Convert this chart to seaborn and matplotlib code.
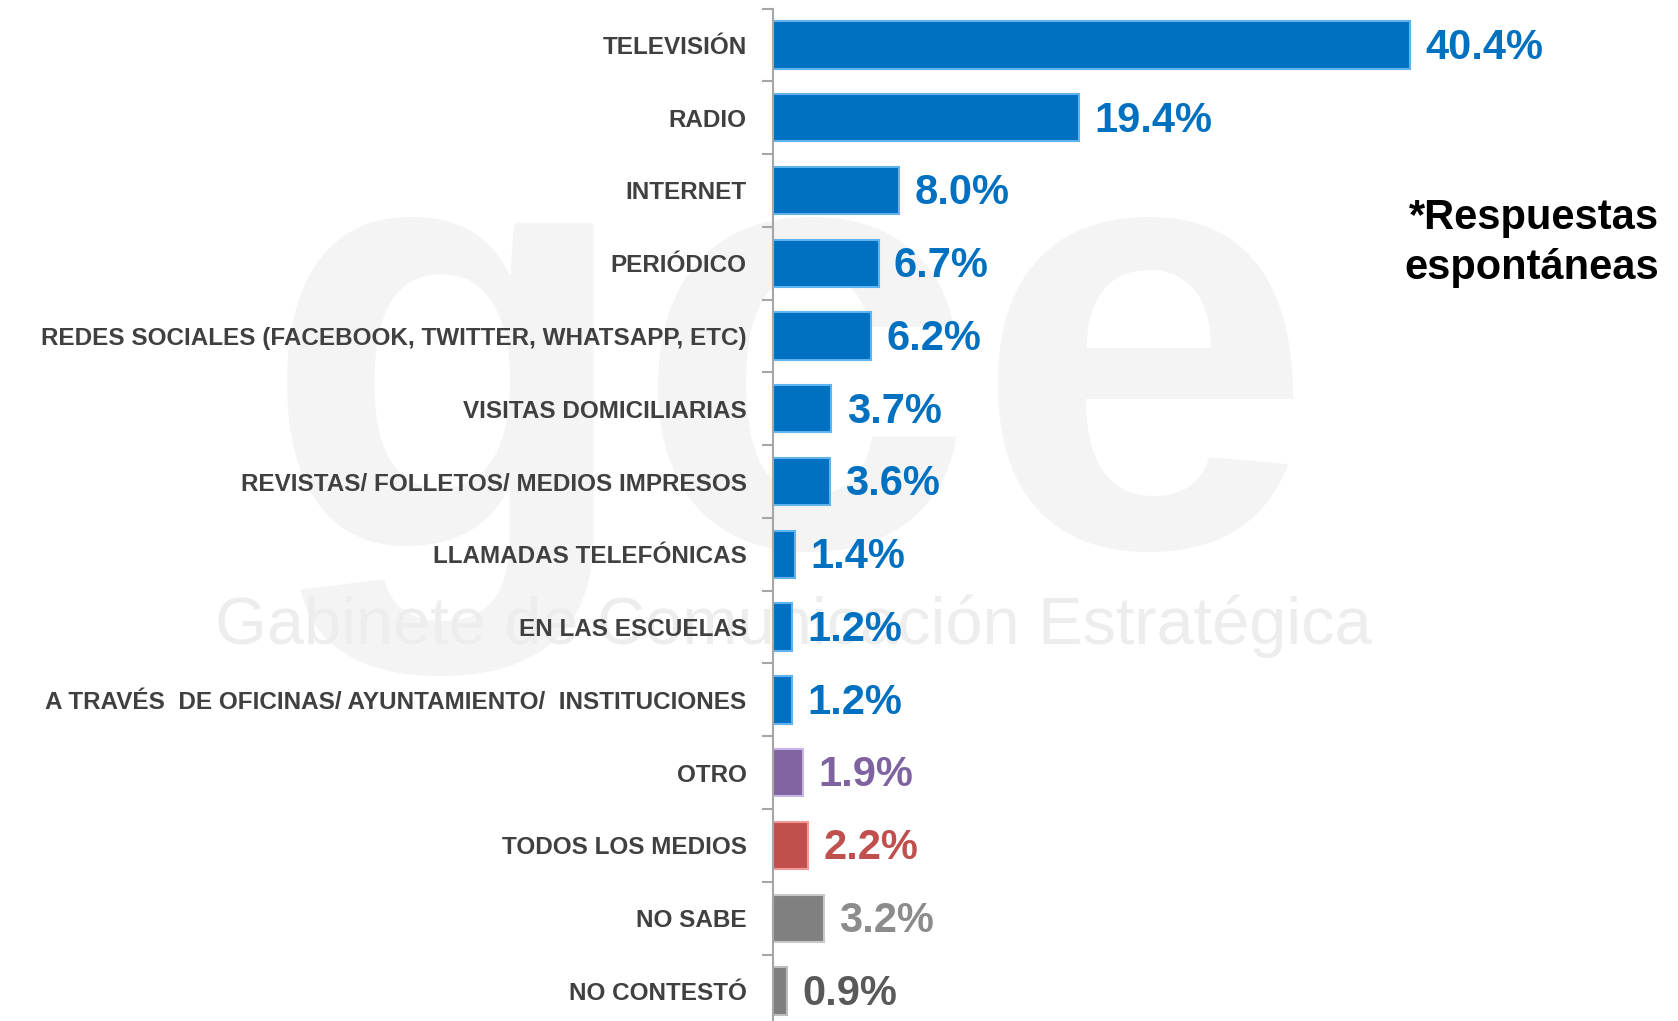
import matplotlib.pyplot as plt
import pandas as pd
import seaborn as sns

categorias = [
    'TELEVISIÓN', 'RADIO', 'INTERNET', 'PERIÓDICO',
    'REDES SOCIALES (FACEBOOK, TWITTER, WHATSAPP, ETC)',
    'VISITAS DOMICILIARIAS', 'REVISTAS/ FOLLETOS/ MEDIOS IMPRESOS',
    'LLAMADAS TELEFÓNICAS', 'EN LAS ESCUELAS',
    'A TRAVÉS  DE OFICINAS/ AYUNTAMIENTO/  INSTITUCIONES',
    'OTRO', 'TODOS LOS MEDIOS', 'NO SABE', 'NO CONTESTÓ',
]
porcentajes = [40.4, 19.4, 8.0, 6.7, 6.2, 3.7, 3.6, 1.4, 1.2, 1.2, 1.9, 2.2, 3.2, 0.9]
grupo = ['medio'] * 10 + ['otro', 'todos', 'nosabe', 'nocontesto']

colores_barra = {'medio': '#0070C0', 'otro': '#8064A2', 'todos': '#C0504D',
                 'nosabe': '#808080', 'nocontesto': '#7F7F7F'}
colores_texto = {'medio': '#0070C0', 'otro': '#7F63A1', 'todos': '#C0504D',
                 'nosabe': '#8C8C8C', 'nocontesto': '#595959'}
bordes = {'medio': '#5FB4F0', 'otro': '#C9B6E8', 'todos': '#F29A98',
          'nosabe': '#C8C8C8', 'nocontesto': '#BDBDBD'}

df = pd.DataFrame({'Medio': categorias, 'Pct': porcentajes, 'Grupo': grupo})

sns.set_style('white')
plt.rcParams['font.family'] = ['Liberation Sans', 'DejaVu Sans']

fig = plt.figure(figsize=(16.78, 10.21), dpi=100)

# marca de agua (detrás de todo)
fig.text(0.47, 0.465, 'gce', fontsize=440, color='#F4F4F4', ha='center', va='baseline',
         fontweight='bold', zorder=-10)
fig.text(0.473, 0.387, 'Gabinete de Comunicación Estratégica', fontsize=48, color='#EDEDED',
         ha='center', va='center', zorder=-10)

ax = fig.add_axes([0.4607, -0.0062, 0.5393, 0.9978])
ax.patch.set_alpha(0)

sns.barplot(data=df, x='Pct', y='Medio', hue='Grupo', palette=colores_barra,
            dodge=False, width=0.65, legend=False, ax=ax, saturation=1)

for cont in ax.containers:
    for b in cont:
        if b.get_width() > 0:
            i = int(round(b.get_y() + b.get_height() / 2))
            b.set_edgecolor(bordes[grupo[i]])
            b.set_linewidth(1.5)
            ax.annotate(f'{porcentajes[i]:.1f}%', (b.get_width(), i),
                        xytext=(11, -2), textcoords='offset points', va='center',
                        fontsize=30, fontweight='bold', color=colores_texto[grupo[i]])

ax.set_xlim(0, 57.4)
ax.set_ylim(13.5, -0.5)
ax.set_xlabel('')
ax.set_ylabel('')
ax.set_xticks([])
ax.set_yticks(range(len(categorias)))
ax.set_yticklabels(categorias, fontsize=17.5, fontweight='bold', color='#404040')
ax.set_yticks([i - 0.5 for i in range(len(categorias) + 1)], minor=True)
ax.tick_params(axis='y', which='major', left=False, length=0, pad=19)
ax.tick_params(axis='y', which='minor', left=True, length=8, width=1.5,
               color='#A6A6A6', direction='out')
for s in ['top', 'right', 'bottom']:
    ax.spines[s].set_visible(False)
ax.spines['left'].set_color('#A6A6A6')
ax.spines['left'].set_linewidth(1.5)

fig.text(0.989, 0.762, '*Respuestas\nespontáneas', fontsize=30, fontweight='bold',
         ha='right', va='center', color='black', linespacing=1.3)

fig.savefig('out.png', dpi=100)
